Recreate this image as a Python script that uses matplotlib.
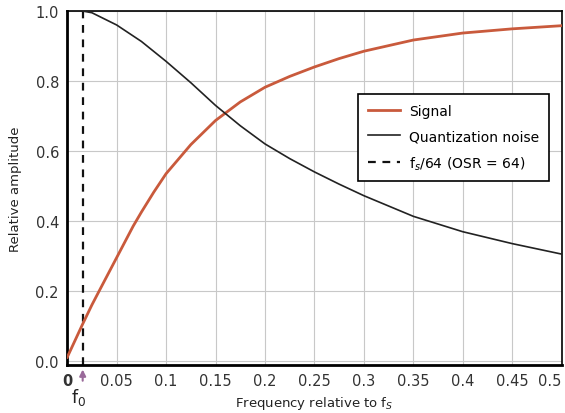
import matplotlib
matplotlib.use("Agg")
import matplotlib.pyplot as plt

# Data
sig_f = [0.0, 0.0156, 0.025, 0.0333, 0.05, 0.0667, 0.075, 0.0875, 0.1, 0.125, 0.15, 0.175,
         0.2, 0.225, 0.25, 0.275, 0.3, 0.35, 0.4, 0.45, 0.5]
sig_a = [0.01, 0.105, 0.16, 0.205, 0.295, 0.385, 0.425, 0.482, 0.535, 0.618, 0.687, 0.740,
         0.782, 0.813, 0.840, 0.864, 0.885, 0.917, 0.937, 0.949, 0.958]

noise_f = [0.0156, 0.025, 0.05, 0.075, 0.1, 0.125, 0.15, 0.175, 0.2, 0.225, 0.25, 0.275,
           0.3, 0.35, 0.4, 0.45, 0.5]
noise_a = [1.0, 0.995, 0.96, 0.913, 0.856, 0.795, 0.73, 0.672, 0.62, 0.578, 0.540, 0.505,
           0.472, 0.413, 0.369, 0.335, 0.305]

f0 = 1 / 64
xticks = [0, 0.05, 0.1, 0.15, 0.2, 0.25, 0.3, 0.35, 0.4, 0.45, 0.5]
xticklabels = ["0", "0.05", "0.1", "0.15", "0.2", "0.25", "0.3", "0.35", "0.4", "0.45", "0.5"]
yticks = [0.0, 0.2, 0.4, 0.6, 0.8, 1.0]
yticklabels = ["0.0", "0.2", "0.4", "0.6", "0.8", "1.0"]

plt.rcParams["font.family"] = ["DejaVu Sans"]

fig = plt.figure(figsize=(5.65, 4.14), dpi=100)
ax = fig.add_axes([0.119, 0.116, 0.875, 0.855])

ax.plot(sig_f, sig_a, color="#c95a3c", lw=2.0, label="Signal", zorder=3)
ax.plot(noise_f, noise_a, color="#222222", lw=1.2, label="Quantization noise", zorder=3)
ax.axvline(f0, color="#111111", lw=1.6, ls=(0, (3.5, 3)), label="f$_s$/64 (OSR = 64)", zorder=2)

ax.set_xlim(0, 0.5)
ax.set_ylim(-0.012, 1.0)
ax.set_xticks(xticks)
ax.set_xticklabels(xticklabels)
ax.set_yticks(yticks)
ax.set_yticklabels(yticklabels)
ax.tick_params(length=0, labelsize=10.5, colors="#333333", pad=6)
xtl = ax.get_xticklabels()
xtl[0].set_fontweight("bold")
xtl[-1].set_horizontalalignment("right")

ax.grid(True, color="#c8c8c8", lw=0.8)
ax.set_axisbelow(True)

for side in ["left", "bottom"]:
    ax.spines[side].set_linewidth(2.0)
for side in ["top", "right"]:
    ax.spines[side].set_linewidth(1.2)

ax.set_xlabel("Frequency relative to f$_S$", fontsize=9.5, color="#222222", labelpad=4)
ax.set_ylabel("Relative amplitude", fontsize=9.5, color="#222222", labelpad=10)

# f0 marker below axis
ax.annotate("", xy=(f0, -0.017), xytext=(f0, -0.065), xycoords="data",
            arrowprops=dict(arrowstyle="-|>", color="#9a6a9a", lw=1.5, mutation_scale=9),
            annotation_clip=False)
ax.text(f0 - 0.004, -0.072, "f$_0$", fontsize=12.5, color="#222222",
        ha="center", va="top", transform=ax.transData, clip_on=False)

leg = ax.legend(loc="upper right", bbox_to_anchor=(0.975, 0.765), fontsize=10,
                frameon=True, fancybox=False, edgecolor="black", framealpha=1,
                handlelength=2.3, handletextpad=0.7, borderpad=0.7, labelspacing=0.8,
                borderaxespad=0)
leg.get_frame().set_linewidth(1.2)

fig.savefig("out.png", dpi=100)
